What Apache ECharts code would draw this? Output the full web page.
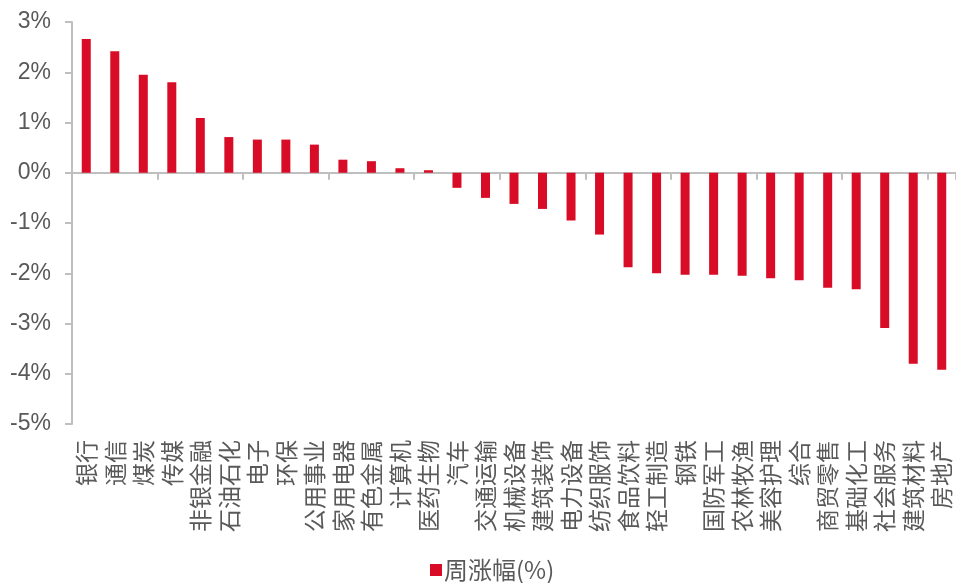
<!DOCTYPE html>
<html>
<head>
<meta charset="utf-8">
<script src="https://cdn.jsdelivr.net/npm/echarts@6/dist/echarts.min.js"></script>
<style>
html,body{margin:0;padding:0;background:#fff;}
#chart{width:956px;height:583px;}
</style>
</head>
<body>
<div id="chart"></div>
<script>
const categories = ['银行','通信','煤炭','传媒','非银金融','石油石化','电子','环保','公用事业','家用电器','有色金属','计算机','医药生物','汽车','交通运输','机械设备','建筑装饰','电力设备','纺织服饰','食品饮料','轻工制造','钢铁','国防军工','农林牧渔','美容护理','综合','商贸零售','基础化工','社会服务','建筑材料','房地产'];
const weeklyChange = [2.66,2.42,1.95,1.80,1.09,0.71,0.66,0.66,0.56,0.26,0.23,0.09,0.05,-0.30,-0.50,-0.62,-0.72,-0.95,-1.23,-1.88,-2.00,-2.03,-2.03,-2.05,-2.10,-2.14,-2.29,-2.32,-3.09,-3.80,-3.92];
const seriesName = '周涨幅(%)';
const yMin = -5, yMax = 3, yStep = 1;

const font = '"Liberation Sans", Arial, "Noto Sans CJK SC", sans-serif';
const cjk = '"Noto Sans CJK SC", sans-serif';
const chart = echarts.init(document.getElementById('chart'), null, {renderer:'canvas'});
chart.setOption({
  animation: false,
  textStyle: {fontFamily: font},
  grid: {left: 72, right: 0, top: 22, bottom: 159, containLabel: false},
  legend: {
    data: [seriesName],
    top: 558,
    left: 430,
    padding: 0,
    icon: 'rect',
    itemWidth: 12,
    itemHeight: 12,
    textStyle: {fontSize: 24, lineHeight: 24, color: '#595959', fontFamily: cjk, padding: [0,0,0,-3]}
  },
  xAxis: [{
    type: 'category',
    data: categories,
    position: 'bottom',
    axisLine: {onZero: true, lineStyle: {color: '#bfbfbf', width: 2}},
    axisTick: {show: true, alignWithLabel: false, length: 7, lineStyle: {color: '#bfbfbf', width: 2}},
    axisLabel: {show: false}
  },{
    type: 'category',
    data: categories,
    position: 'bottom',
    axisLine: {show: false, onZero: false},
    axisTick: {show: false},
    axisLabel: {show: true, rotate: 90, interval: 0, margin: 16, fontSize: 23, color: '#595959', fontFamily: cjk}
  }],
  yAxis: {
    type: 'value',
    min: yMin, max: yMax, interval: yStep,
    axisLine: {show: true, lineStyle: {color: '#bfbfbf', width: 2}},
    axisTick: {show: true, length: 7, lineStyle: {color: '#bfbfbf', width: 2}},
    splitLine: {show: false},
    axisLabel: {formatter: '{value}%', fontSize: 23, color: '#595959', margin: 21, fontFamily: font}
  },
  series: [{
    name: seriesName,
    type: 'bar',
    xAxisIndex: 0,
    data: weeklyChange,
    barWidth: 9,
    itemStyle: {color: '#d80c26'}
  }]
});
</script>
</body>
</html>
